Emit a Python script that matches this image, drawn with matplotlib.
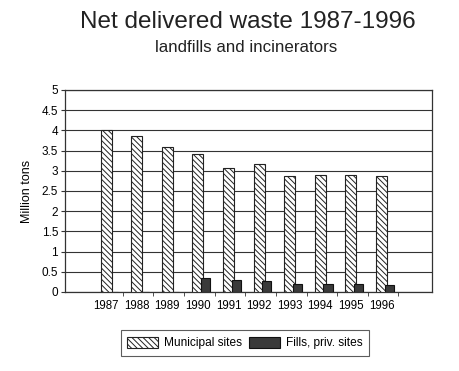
import matplotlib
matplotlib.use("Agg")
import matplotlib.pyplot as plt
import numpy as np

years = ["1987", "1988", "1989", "1990", "1991", "1992", "1993", "1994", "1995", "1996"]
municipal = [4.02, 3.85, 3.58, 3.42, 3.07, 3.18, 2.88, 2.90, 2.90, 2.88]
fills = [0.0, 0.0, 0.0, 0.35, 0.29, 0.26, 0.20, 0.20, 0.20, 0.18]
series_names = ["Municipal sites", "Fills, priv. sites"]
yticks = [0, 0.5, 1, 1.5, 2, 2.5, 3, 3.5, 4, 4.5, 5]
ytick_labels = ["0", "0.5", "1", "1.5", "2", "2.5", "3", "3.5", "4", "4.5", "5"]

plt.rcParams['font.family'] = ['Liberation Sans', 'DejaVu Sans']
plt.rcParams['hatch.linewidth'] = 0.7

fig = plt.figure(figsize=(4.6, 3.71), dpi=100)
ax = fig.add_axes([65/460, 1-292/371, (432-65)/460, (292-90)/371])

x = np.arange(len(years))
b1 = ax.bar(x, municipal, width=0.36, color='white', edgecolor='#222222',
            hatch='\\' * 6, linewidth=0.8, zorder=3, label=series_names[0])
b2 = ax.bar(x + 0.25, fills, width=0.3, color='#3a3a3a', edgecolor='#111111',
            linewidth=0.8, zorder=4, label=series_names[1])

ax.set_xlim(-1.34, 10.65)
ax.set_ylim(0, 5)
ax.set_yticks(yticks)
ax.set_yticklabels(ytick_labels)
ax.set_xticks(x)
ax.set_xticklabels(years)
ax.set_xticks(x + 0.55, minor=True)
ax.tick_params(axis='x', which='major', length=0, labelsize=8.3, pad=6)
ax.tick_params(axis='x', which='minor', length=3, direction='out', color='#333333')
ax.tick_params(axis='y', length=3, direction='out', labelsize=8.5, pad=2, color='#333333')

ax.yaxis.grid(True, color='#333333', linewidth=0.8, zorder=0)
ax.set_axisbelow(True)
for s in ax.spines.values():
    s.set_color('#333333')
    s.set_linewidth(0.9)

ax.set_ylabel("Million tons", fontsize=9, labelpad=6)

fig.text(248/460, 1-22/371, "Net delivered waste 1987-1996", ha='center', va='center',
         fontsize=17.5, color='#222222')
fig.text(246/460, 1-47/371, "landfills and incinerators", ha='center', va='center',
         fontsize=12.2, color='#222222')

leg = fig.legend(handles=[b1, b2], labels=series_names, loc='center',
                 bbox_to_anchor=(245/460, 1-343/371), ncol=2, fontsize=8.6,
                 frameon=True, fancybox=False, edgecolor='#333333',
                 handlelength=2.6, handleheight=1.1, columnspacing=0.6,
                 handletextpad=0.5, borderpad=0.55)
leg.get_frame().set_linewidth(0.8)

fig.savefig("out.png", dpi=100, facecolor='white')
